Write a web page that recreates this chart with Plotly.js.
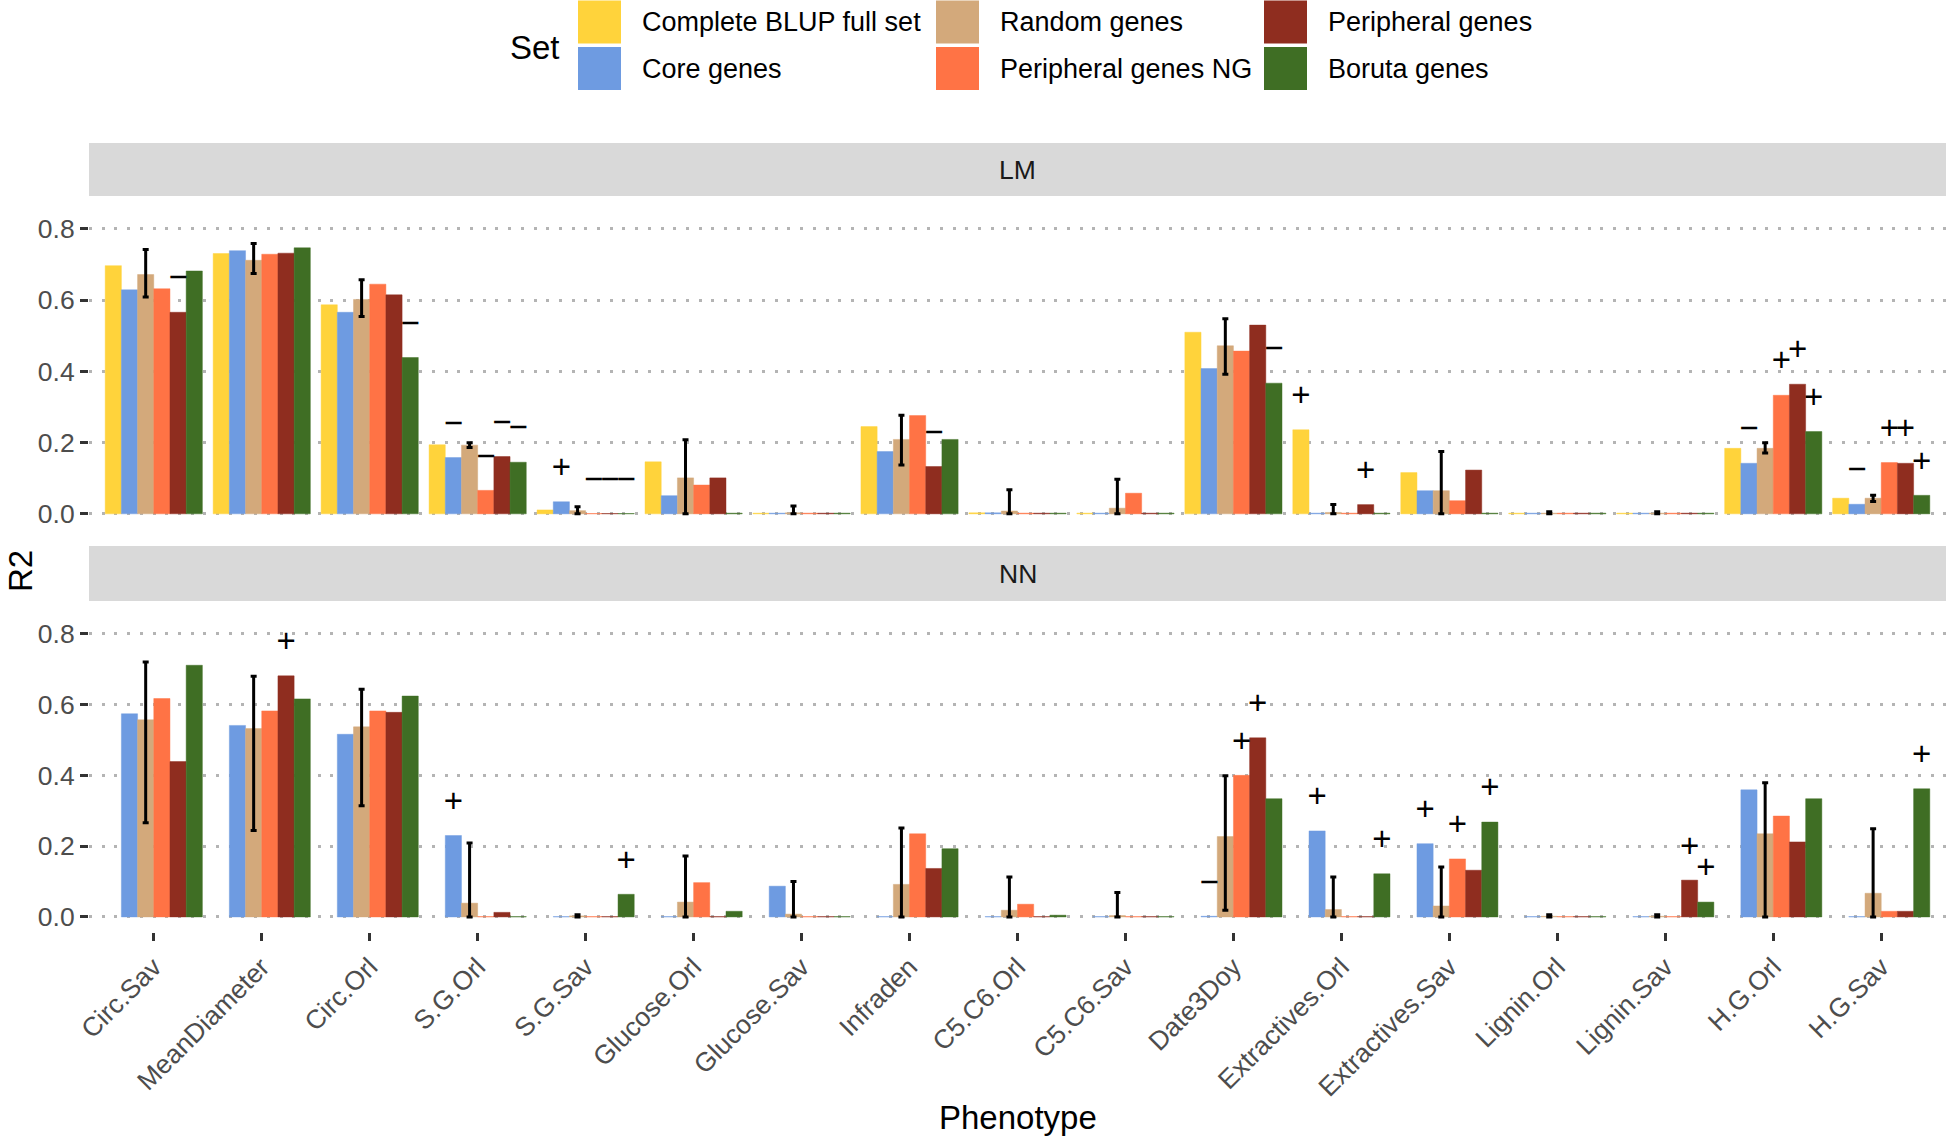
<!DOCTYPE html>
<html><head><meta charset="utf-8">
<script src="https://cdn.plot.ly/plotly-3.0.1.min.js"></script>
<style>html,body{margin:0;padding:0;background:#fff;}#chart{width:1946px;height:1137px;}</style>
</head><body><div id="chart"></div>
<script>
// ---------- DATA ----------
const categories = ["Circ.Sav","MeanDiameter","Circ.Orl","S.G.Orl","S.G.Sav","Glucose.Orl","Glucose.Sav","Infraden","C5.C6.Orl","C5.C6.Sav","Date3Doy","Extractives.Orl","Extractives.Sav","Lignin.Orl","Lignin.Sav","H.G.Orl","H.G.Sav"];
const setNames = ["Complete BLUP full set","Core genes","Random genes","Peripheral genes NG","Peripheral genes","Boruta genes"];
const setColors = ["#FFD33B","#6E9BE1","#D3A97B","#FF7345","#8F2D1F","#3F6E24"];

// LM panel
const lmComplete = [0.697,0.731,0.587,0.194,0.011,0.146,0.002,0.245,0.003,0.002,0.510,0.236,0.116,0.002,0.002,0.184,0.044];
const lmCore     = [0.629,0.739,0.566,0.158,0.034,0.051,0.002,0.175,0.003,0.002,0.408,0.002,0.065,0.002,0.002,0.142,0.027];
const lmRandom   = [0.672,0.712,0.602,0.193,0.009,0.101,0.003,0.209,0.008,0.016,0.472,0.004,0.065,0.002,0.002,0.184,0.044];
const lmRandomLo = [0.609,0.675,0.554,0.186,0.000,0.000,0.000,0.137,0.000,0.000,0.392,0.000,0.000,0.000,0.000,0.171,0.035];
const lmRandomHi = [0.742,0.759,0.657,0.200,0.020,0.208,0.022,0.277,0.068,0.097,0.548,0.026,0.175,0.006,0.006,0.200,0.052];
const lmPeriNG   = [0.632,0.729,0.645,0.066,0.001,0.081,0.002,0.276,0.002,0.058,0.457,0.002,0.037,0.002,0.002,0.333,0.144];
const lmPeri     = [0.566,0.732,0.615,0.161,0.001,0.101,0.002,0.133,0.002,0.002,0.530,0.026,0.123,0.002,0.002,0.364,0.142];
const lmBoruta   = [0.682,0.747,0.439,0.145,0.001,0.002,0.002,0.209,0.002,0.002,0.367,0.002,0.002,0.002,0.002,0.231,0.052];

// NN panel
const nnComplete = [null,null,null,null,null,null,null,null,null,null,null,null,null,null,null,null,null];
const nnCore     = [0.574,0.541,0.516,0.230,0.001,0.001,0.087,0.001,0.001,0.001,0.002,0.243,0.207,0.001,0.001,0.359,0.001];
const nnRandom   = [0.557,0.532,0.537,0.039,0.003,0.042,0.008,0.092,0.019,0.004,0.227,0.021,0.031,0.002,0.002,0.235,0.067];
const nnRandomLo = [0.266,0.244,0.314,0.000,0.000,0.000,0.000,0.000,0.000,0.000,0.019,0.000,0.000,0.000,0.000,0.000,0.000];
const nnRandomHi = [0.720,0.680,0.643,0.209,0.006,0.172,0.100,0.251,0.113,0.069,0.399,0.113,0.141,0.006,0.006,0.379,0.249];
const nnPeriNG   = [0.617,0.582,0.582,0.001,0.001,0.097,0.001,0.235,0.036,0.001,0.400,0.001,0.164,0.001,0.001,0.285,0.016];
const nnPeri     = [0.439,0.681,0.578,0.013,0.001,0.001,0.001,0.137,0.001,0.001,0.506,0.001,0.132,0.001,0.104,0.212,0.016];
const nnBoruta   = [0.711,0.616,0.624,0.001,0.064,0.016,0.001,0.193,0.005,0.001,0.334,0.122,0.268,0.001,0.042,0.334,0.362];

// significance marks: [phenotype, set, sign]
const lmMarks = [
  ["Circ.Sav","Peripheral genes","−"],["Circ.Orl","Boruta genes","−"],
  ["S.G.Orl","Core genes","−"],["S.G.Orl","Peripheral genes NG","−"],["S.G.Orl","Peripheral genes","−"],["S.G.Orl","Boruta genes","−"],
  ["S.G.Sav","Core genes","+"],["S.G.Sav","Peripheral genes NG","−"],["S.G.Sav","Peripheral genes","−"],["S.G.Sav","Boruta genes","−"],
  ["Infraden","Peripheral genes","−"],["Date3Doy","Boruta genes","−"],
  ["Extractives.Orl","Complete BLUP full set","+"],["Extractives.Orl","Peripheral genes","+"],
  ["H.G.Orl","Core genes","−"],["H.G.Orl","Peripheral genes NG","+"],["H.G.Orl","Peripheral genes","+"],["H.G.Orl","Boruta genes","+"],
  ["H.G.Sav","Core genes","−"],["H.G.Sav","Peripheral genes NG","+"],["H.G.Sav","Peripheral genes","+"],["H.G.Sav","Boruta genes","+"]
];
const nnMarks = [
  ["MeanDiameter","Peripheral genes","+"],["S.G.Orl","Core genes","+"],["S.G.Sav","Boruta genes","+"],
  ["Date3Doy","Core genes","−"],["Date3Doy","Peripheral genes NG","+"],["Date3Doy","Peripheral genes","+"],
  ["Extractives.Orl","Core genes","+"],["Extractives.Orl","Boruta genes","+"],
  ["Extractives.Sav","Core genes","+"],["Extractives.Sav","Peripheral genes NG","+"],["Extractives.Sav","Boruta genes","+"],
  ["Lignin.Sav","Peripheral genes","+"],["Lignin.Sav","Boruta genes","+"],["H.G.Sav","Boruta genes","+"]
];
const yTicks = [0,0.2,0.4,0.6,0.8];
const yTickText = ["0.0","0.2","0.4","0.6","0.8"];

// ---------- BUILD ----------
const W = 1946, H = 1137;
const FONT = "Liberation Sans, Arial, Helvetica, sans-serif";
const px = x => x / W, py = y => 1 - y / H;
const xIdx = categories.map((c, i) => i + 1);
const markOffset = 0.09;
const slotW = 0.15;

function hexA(hex, a) {
  const n = parseInt(hex.slice(1), 16);
  return `rgba(${n >> 16},${(n >> 8) & 255},${n & 255},${a})`;
}

const panels = [
  {vals:[lmComplete,lmCore,lmRandom,lmPeriNG,lmPeri,lmBoruta], lo:lmRandomLo, hi:lmRandomHi, marks:lmMarks, xa:"x2", ya:"y2"},
  {vals:[nnComplete,nnCore,nnRandom,nnPeriNG,nnPeri,nnBoruta], lo:nnRandomLo, hi:nnRandomHi, marks:nnMarks, xa:"x", ya:"y"}
];

const traces = [];
panels.forEach(p => {
  p.vals.forEach((v, k) => {
    const t = {
      type: "bar", x: xIdx, y: v, name: setNames[k], xaxis: p.xa, yaxis: p.ya,
      showlegend: false, hoverinfo: "skip",
      marker: {color: setColors[k], line: {color: hexA(setColors[k], 0.45), width: 1}}
    };
    if (k === 2) {
      t.error_y = {
        type: "data", symmetric: false,
        array: v.map((y, i) => p.hi[i] - y),
        arrayminus: v.map((y, i) => y - p.lo[i]),
        color: "#000000", thickness: 3, width: 3
      };
    }
    traces.push(t);
  });
  const mx = [], my = [], mt = [];
  p.marks.forEach(m => {
    const i = categories.indexOf(m[0]);
    const k = setNames.indexOf(m[1]);
    mx.push(i + 1 + (k - 2.5) * slotW);
    my.push((p.vals[k][i] || 0) + markOffset);
    mt.push(m[2]);
  });
  traces.push({
    type: "scatter", mode: "text", x: mx, y: my, text: mt, xaxis: p.xa, yaxis: p.ya,
    textposition: "middle center", cliponaxis: false, showlegend: false, hoverinfo: "skip",
    textfont: {family: FONT, size: 33, color: "#000000"}
  });
});

const yCommon = {
  range: [-0.0425, 0.8925], tickvals: yTicks, ticktext: yTickText,
  ticks: "outside", ticklen: 8, tickwidth: 3, tickcolor: "#333333",
  tickfont: {family: FONT, size: 26.5, color: "#4D4D4D"},
  showgrid: true, gridcolor: "#B4B4B4", gridwidth: 3, griddash: "3px,9.7px",
  zeroline: false, showline: false, fixedrange: true
};

const ann = (text, x, y, size, color, extra) => Object.assign({
  text: text, x: px(x), y: py(y), xref: "paper", yref: "paper", showarrow: false,
  xanchor: "center", yanchor: "middle", font: {family: FONT, size: size, color: color}
}, extra || {});

const shapes = [
  {type:"rect", xref:"paper", yref:"paper", x0:px(89), x1:1, y0:py(196), y1:py(143), fillcolor:"#D9D9D9", line:{width:0}, layer:"below"},
  {type:"rect", xref:"paper", yref:"paper", x0:px(89), x1:1, y0:py(601), y1:py(546), fillcolor:"#D9D9D9", line:{width:0}, layer:"below"}
];
const annotations = [
  ann("LM", 1017.5, 169.5, 26.5, "#1A1A1A"),
  ann("NN", 1017.5, 573.5, 26.5, "#1A1A1A"),
  ann("R2", 20, 571, 33, "#000000", {textangle: -90}),
  ann("Phenotype", 1017.5, 1117, 33, "#000000"),
  ann("Set", 508, 47, 33, "#000000", {xanchor: "left"})
];
// custom legend (large keys)
const legColX = [578, 936, 1264];
const legRowY = [0.5, 47];
const keySize = 43;
setNames.forEach((nm, i) => {
  const c = Math.floor(i / 2), r = i % 2;
  const x0 = legColX[c], y0 = legRowY[r];
  shapes.push({type:"rect", xref:"paper", yref:"paper", x0:px(x0), x1:px(x0 + keySize), y0:py(y0 + keySize), y1:py(y0),
    fillcolor:setColors[i], line:{width:0}});
  annotations.push(ann(nm, x0 + keySize + 19, y0 + keySize / 2, 27, "#000000", {xanchor: "left"}));
});

const layout = {
  width: W, height: H, margin: {l:0, r:0, t:0, b:0, pad:0},
  paper_bgcolor: "#ffffff", plot_bgcolor: "rgba(0,0,0,0)",
  barmode: "group", bargap: 0.1, bargroupgap: 0,
  showlegend: false,
  xaxis: {
    domain: [px(89), 1], anchor: "y", range: [0.4, 17.6],
    tickvals: xIdx, ticktext: categories, tickangle: -45,
    ticks: "outside", ticklen: 8, tickwidth: 3, tickcolor: "#333333",
    tickfont: {family: FONT, size: 26.5, color: "#4D4D4D"},
    showgrid: false, zeroline: false, showline: false, fixedrange: true
  },
  xaxis2: {
    domain: [px(89), 1], anchor: "y2", matches: "x", range: [0.4, 17.6],
    showticklabels: false, ticks: "", showgrid: false, zeroline: false, showline: false, fixedrange: true
  },
  yaxis: Object.assign({domain: [py(932), py(601)], anchor: "x"}, yCommon),
  yaxis2: Object.assign({domain: [py(529), py(196)], anchor: "x2"}, yCommon),
  shapes: shapes,
  annotations: annotations
};

Plotly.newPlot("chart", traces, layout, {staticPlot: true, displayModeBar: false});
</script>
</body></html>
